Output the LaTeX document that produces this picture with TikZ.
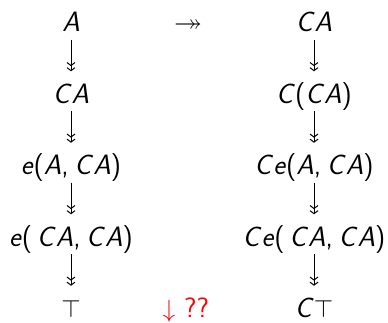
\documentclass[tikz,border=0pt]{standalone}
\usepackage{amssymb}
\usepackage{tikz}
\usetikzlibrary{arrows.meta}

\tikzset{
  term/.style={anchor=base, inner sep=0pt, text height=26pt, text depth=2.5pt,
    font=\sffamily\fontsize{28}{34}\selectfont},
  glyph/.style={anchor=base, inner sep=0pt, font=\sffamily\fontsize{28}{34}\selectfont},
  reduce/.style={-{Straight Barb[length=3pt,width=8pt,sep=1pt]
    Straight Barb[length=3pt,width=8pt]},
    line width=1pt, shorten <=5pt, shorten >=6pt}
}
% one slanted letter, no kerning with its neighbour
\newcommand{\sv}[1]{{\slshape #1\/}}
\newcommand{\csp}{,\hspace{0.2em}}

\begin{document}
\begin{tikzpicture}[x=1pt,y=1pt]
  \useasboundingbox (0,0) rectangle (388,323);
  % left column
  \node[term] (l1) at (71,291) {\sv{A}};
  \node[term] (l2) at (71,219.5) {\sv{C}\sv{A}};
  \node[term] (l3) at (71,148) {\sv{e}(\sv{A}\csp\sv{C}\sv{A})};
  \node[term] (l4) at (71,76.5) {\sv{e}(\,\sv{C}\sv{A}\csp\sv{C}\sv{A})};
  \node[term] (l5) at (71,5) {$\top$};
  % right column
  \node[term] (r1) at (314,291) {\sv{C}\sv{A}};
  \node[term] (r2) at (314,219.5) {\sv{C}(\sv{C}\sv{A})};
  \node[term] (r3) at (314,148) {\sv{C}\sv{e}(\sv{A}\csp\sv{C}\sv{A})};
  \node[term] (r4) at (314,76.5) {\sv{C}\sv{e}(\,\sv{C}\sv{A}\csp\sv{C}\sv{A})};
  \node[term] (r5) at (314,5) {\sv{C}$\top$};
  % middle
  \node[glyph] (map) at (188,291) {$\twoheadrightarrow$};
  \node[glyph,text=red] (ask) at (186,5) {$\downarrow$ ??};
  \foreach \i/\j in {1/2,2/3,3/4,4/5}{
    \draw[reduce] (l\i) -- (l\j);
    \draw[reduce] (r\i) -- (r\j);
  }
\end{tikzpicture}
\end{document}
